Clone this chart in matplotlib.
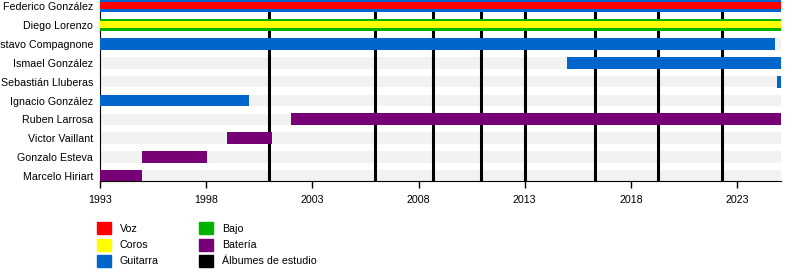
import matplotlib.pyplot as plt
from matplotlib.patches import Rectangle

plt.rcParams['font.family'] = ['Liberation Sans', 'DejaVu Sans']

# members, top to bottom
members = ['Federico González', 'Diego Lorenzo', 'Gustavo Compagnone', 'Ismael González',
           'Sebastián Lluberas', 'Ignacio González', 'Ruben Larrosa', 'Victor Vaillant',
           'Gonzalo Esteva', 'Marcelo Hiriart']
mainRole = ['Guitarra', 'Bajo', 'Guitarra', 'Guitarra', 'Guitarra',
            'Guitarra', 'Batería', 'Batería', 'Batería', 'Batería']
secondRole = ['Voz', 'Coros', None, None, None, None, None, None, None, None]
startYear = [1993, 1993, 1993, 2015.0, 2024.9, 1993, 2002.0, 1999.0, 1995.0, 1993]
endYear = [2025.07, 2025.07, 2024.8, 2025.07, 2025.07, 2000.0, 2025.07, 2001.1, 1998.05, 1995.0]

albums = [2000.95, 2005.95, 2008.7, 2010.92, 2013.0, 2016.3, 2019.3, 2022.27]

roleColors = {
    'Voz': '#ff0000',
    'Coros': '#ffff00',
    'Guitarra': '#0066cc',
    'Bajo': '#00b300',
    'Batería': '#770077',
    'Álbumes de estudio': '#000000',
}
legendCol1 = ['Voz', 'Coros', 'Guitarra']
legendCol2 = ['Bajo', 'Batería', 'Álbumes de estudio']

yearTicks = [1993, 1998, 2003, 2008, 2013, 2018, 2023]
timeStart = 1993
timeEnd = 2025.07

W, H = 800, 280
fs = 7.7
fig = plt.figure(figsize=(W / 100, H / 100), dpi=100)
ax = fig.add_axes([100 / W, 1 - 181 / H, 681 / W, 181 / H])

rows = list(range(len(members)))

# light background bands
ax.barh(rows, [timeEnd - timeStart] * len(rows), left=timeStart, height=0.62,
        color='#f2f2f2', zorder=1)

# album lines
for a in albums:
    ax.axvline(a, color='black', linewidth=2.2, zorder=2)

# member bars
for i in rows:
    ax.barh(i, endYear[i] - startYear[i], left=startYear[i], height=0.63,
            color=roleColors[mainRole[i]], zorder=3)
    if secondRole[i]:
        ax.barh(i - 0.03, endYear[i] - startYear[i], left=startYear[i], height=0.34,
                color=roleColors[secondRole[i]], zorder=4)

ax.set_xlim(timeStart, timeEnd)
ax.set_ylim(9.26, -0.32)
ax.set_yticks(rows)
ax.set_yticklabels(members, fontsize=fs)
ax.tick_params(axis='y', length=0, pad=5)
ax.set_xticks(yearTicks)
ax.set_xticklabels([str(y) for y in yearTicks], fontsize=fs)
ax.tick_params(axis='x', length=5, width=1, pad=5)
ax.spines['top'].set_visible(False)
ax.spines['right'].set_visible(False)

# legend, drawn by hand
def legendItem(label, x, y):
    fig.add_artist(Rectangle((x / W, 1 - (y + 12) / H), 14 / W, 12 / H,
                             transform=fig.transFigure, color=roleColors[label]))
    fig.text((x + 23) / W, 1 - (y + 6.5) / H, label, fontsize=fs, va='center')

for k, lab in enumerate(legendCol1):
    legendItem(lab, 97, 222 + 16.5 * k)
for k, lab in enumerate(legendCol2):
    legendItem(lab, 199, 222 + 16.5 * k)

fig.savefig('out.png', dpi=100)
